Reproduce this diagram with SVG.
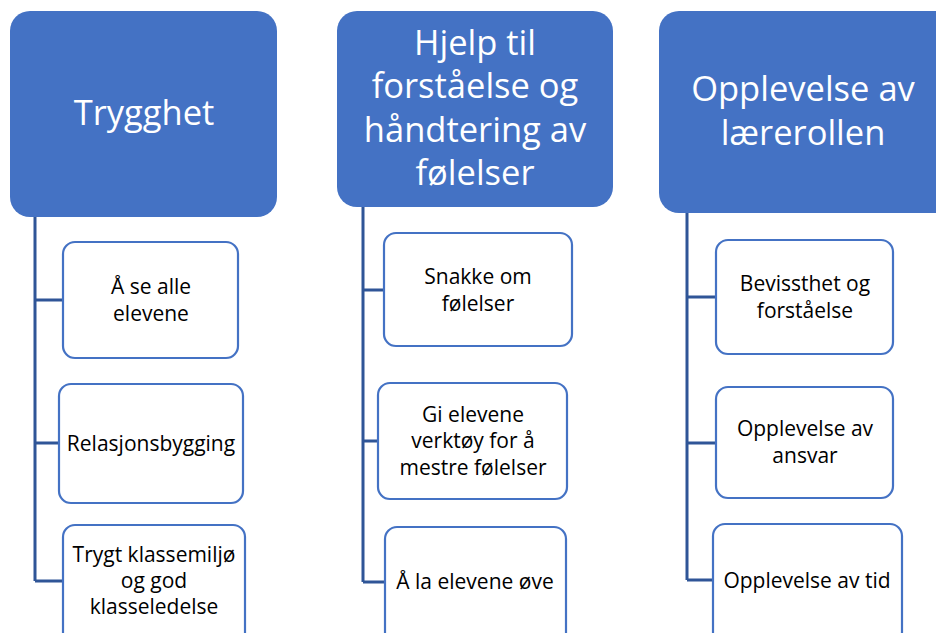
<svg xmlns="http://www.w3.org/2000/svg" width="936" height="633" viewBox="0 0 936 633">
<style>
.hdr{fill:#4472C4;}
.ht{fill:#fff;font-family:"Open Sans","Liberation Sans",sans-serif;font-size:34.5px;text-anchor:middle;}
.ch{fill:#fff;stroke:#4472C4;stroke-width:2.2;}
.ct{fill:#000;font-family:"Open Sans","Liberation Sans",sans-serif;font-size:21px;text-anchor:middle;}
.con{fill:none;stroke:#2F5597;stroke-width:3;}
</style>
<rect width="936" height="633" fill="#fff"/>
<g id="connectors">
<path class="con" d="M35 217V581M35 300H63M35 443H59M35 581H63"/>
<path class="con" d="M363 207V582M363 290H384M363 441H378M363 582H385"/>
<path class="con" d="M687 213V580M687 297H716M687 443H716M687 580H713"/>
</g>
<g id="h1"><rect class="hdr" x="10" y="11" width="267" height="206" rx="20"/><text class="ht" x="144" y="125">Trygghet</text></g>
<g id="h2"><rect class="hdr" x="337" y="11" width="276" height="196" rx="20"/>
<text class="ht" x="475" y="55">Hjelp til</text><text class="ht" x="475" y="98">forståelse og</text><text class="ht" x="475" y="142">håndtering av</text><text class="ht" x="475" y="185">følelser</text></g>
<g id="h3"><rect class="hdr" x="659" y="11" width="300" height="202" rx="20"/>
<text class="ht" x="803" y="101">Opplevelse av</text><text class="ht" x="803" y="145">lærerollen</text></g>
<g id="c1a"><rect class="ch" x="63" y="242" width="175" height="116" rx="12"/><text class="ct" x="151" y="294">Å se alle</text><text class="ct" x="151" y="321">elevene</text></g>
<g id="c1b"><rect class="ch" x="59" y="384" width="184" height="119" rx="12"/><text class="ct" x="151" y="451">Relasjonsbygging</text></g>
<g id="c1c"><rect class="ch" x="63" y="525" width="182" height="120" rx="12"/><text class="ct" x="154" y="562">Trygt klassemiljø</text><text class="ct" x="154" y="588">og god</text><text class="ct" x="154" y="614">klasseledelse</text></g>
<g id="c2a"><rect class="ch" x="384" y="233" width="188" height="113" rx="12"/><text class="ct" x="478" y="284">Snakke om</text><text class="ct" x="478" y="311">følelser</text></g>
<g id="c2b"><rect class="ch" x="378" y="383" width="189" height="116" rx="12"/><text class="ct" x="473" y="422">Gi elevene</text><text class="ct" x="473" y="448">verktøy for å</text><text class="ct" x="473" y="475">mestre følelser</text></g>
<g id="c2c"><rect class="ch" x="385" y="527" width="181" height="120" rx="12"/><text class="ct" x="475" y="589">Å la elevene øve</text></g>
<g id="c3a"><rect class="ch" x="716" y="240" width="177" height="114" rx="12"/><text class="ct" x="805" y="291">Bevissthet og</text><text class="ct" x="805" y="318">forståelse</text></g>
<g id="c3b"><rect class="ch" x="716" y="387" width="177" height="111" rx="12"/><text class="ct" x="805" y="436">Opplevelse av</text><text class="ct" x="805" y="463">ansvar</text></g>
<g id="c3c"><rect class="ch" x="713" y="524" width="189" height="120" rx="12"/><text class="ct" x="807" y="588">Opplevelse av tid</text></g>
</svg>
